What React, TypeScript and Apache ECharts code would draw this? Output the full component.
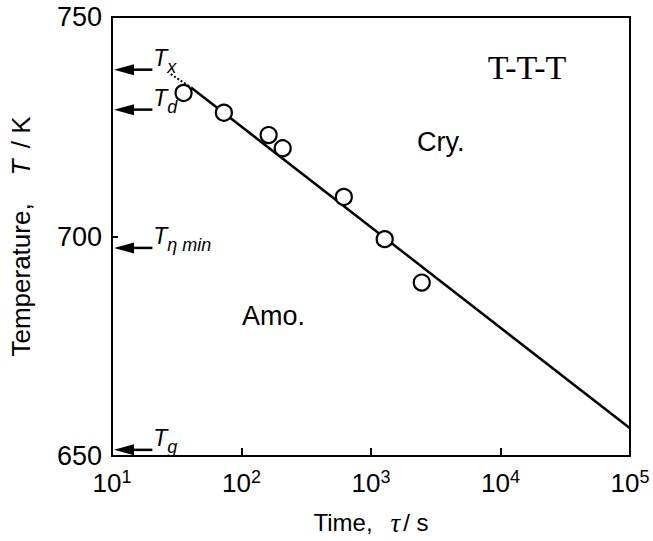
import React, { useEffect, useRef } from "react";
import * as echarts from "echarts";

// Measured crystallisation onset points: [time tau (s), temperature T (K)]
const pointTau = [35.7, 73.1, 162, 208, 617, 1276, 2466];
const pointTemp = [732.7, 728.2, 723.1, 720.1, 709.0, 699.4, 689.5];

// Fitted T-T-T line (solid) and its dotted extension toward Tx
const fitTau = [41, 100000];
const fitTemp = [733.9, 656.3];
const extTau = [28.4, 41];
const extTemp = [737.0, 733.9];

// Characteristic temperatures marked by arrows on the T axis
const arrowSubs = ["x", "d", "η min", "g"];
const arrowTemp = [738.0, 728.9, 697.4, 651.4];
const arrowTailTau = [20.5, 20.5, 20.5, 20.5];

const xTicks = [10, 100, 1000, 10000, 100000];
const yTicks = [650, 700, 750];

const SANS = "'Liberation Sans', Arial, Helvetica, sans-serif";
const SERIF = "'Liberation Serif', 'Times New Roman', serif";

export default function App() {
  const ref = useRef<HTMLDivElement>(null);
  useEffect(() => {
    if (!ref.current) return;
    const chart = echarts.init(ref.current, undefined, { renderer: "svg" });
    const points = pointTau.map((t, i) => [t, pointTemp[i]]);
    const fit = fitTau.map((t, i) => [t, fitTemp[i]]);
    const ext = extTau.map((t, i) => [t, extTemp[i]]);
    const arrows = arrowTemp.map((T, i) => [arrowTailTau[i], T]);

    chart.setOption({
      animation: false,
      backgroundColor: "#fff",
      grid: {
        left: 102,
        right: 23,
        top: 17,
        bottom: 82,
        show: true,
        borderColor: "#000",
        borderWidth: 2,
      },
      xAxis: {
        type: "log",
        logBase: 10,
        min: xTicks[0],
        max: xTicks[xTicks.length - 1],
        axisLine: { show: true, lineStyle: { color: "#000", width: 2 } },
        axisTick: { show: true, inside: true, length: 8, lineStyle: { color: "#000", width: 2 } },
        minorTick: { show: false },
        splitLine: { show: false },
        axisLabel: {
          margin: 12,
          fontSize: 26,
          fontFamily: SANS,
          color: "#000",
          formatter: (v: number) => `{b|10}{s|${Math.round(Math.log10(v))}}`,
          rich: {
            b: { fontSize: 26, fontFamily: SANS, color: "#000", lineHeight: 30 },
            s: { fontSize: 18, fontFamily: SANS, color: "#000", verticalAlign: "top", lineHeight: 17 },
          },
        },
        name: "{a|Time,}{t|τ}{a|/ s}",
        nameLocation: "middle",
        nameGap: 53,
        nameTextStyle: {
          fontSize: 24,
          fontFamily: SANS,
          color: "#000",
          rich: {
            a: { fontSize: 24, fontFamily: SANS, color: "#000" },
            t: { fontSize: 27, fontFamily: SERIF, fontStyle: "italic", color: "#000", padding: [0, 3, 0, 18] },
          },
        },
      },
      yAxis: {
        type: "value",
        min: yTicks[0],
        max: yTicks[yTicks.length - 1],
        interval: 50,
        axisLine: { show: true, lineStyle: { color: "#000", width: 2 } },
        axisTick: { show: true, inside: true, length: 6, lineStyle: { color: "#000", width: 2 } },
        splitLine: { show: false },
        axisLabel: { margin: 10, fontSize: 27, fontFamily: SANS, color: "#000" },
        name: "{a|Temperature,}{i|T}{a| / K}",
        nameLocation: "middle",
        nameGap: 78,
        nameTextStyle: {
          fontSize: 26,
          fontFamily: SANS,
          color: "#000",
          rich: {
            a: { fontSize: 26, fontFamily: SANS, color: "#000" },
            i: { fontSize: 26, fontFamily: SANS, fontStyle: "italic", color: "#000", padding: [0, 4, 0, 28] },
          },
        },
      },
      series: [
        {
          type: "line",
          data: ext,
          symbol: "none",
          lineStyle: { color: "#000", width: 2, type: "dotted" },
          silent: true,
        },
        {
          type: "line",
          data: fit,
          symbol: "none",
          lineStyle: { color: "#000", width: 2.5 },
          silent: true,
        },
        {
          type: "scatter",
          data: points,
          symbol: "circle",
          symbolSize: 16,
          itemStyle: { color: "#fff", borderColor: "#000", borderWidth: 2.2, opacity: 1 },
          z: 5,
        },
        {
          type: "custom",
          clip: false,
          data: arrows,
          z: 6,
          renderItem: (params: any, api: any) => {
            const tail = api.coord([api.value(0), api.value(1)]);
            const head = api.coord([xTicks[0], api.value(1)]);
            const y = tail[1];
            const hx = head[0] + 2;
            const sub = arrowSubs[params.dataIndex];
            return {
              type: "group",
              children: [
                {
                  type: "line",
                  shape: { x1: tail[0], y1: y, x2: hx + 16, y2: y },
                  style: { stroke: "#000", lineWidth: 2.5 },
                },
                {
                  type: "polygon",
                  shape: { points: [[hx, y], [hx + 20, y - 5.5], [hx + 20, y + 5.5]] },
                  style: { fill: "#000" },
                },
                {
                  type: "text",
                  x: tail[0] + 1,
                  y: y - 12,
                  style: {
                    text: "T",
                    fontSize: 23,
                    fontFamily: SANS,
                    fontStyle: "italic",
                    fill: "#000",
                    verticalAlign: "middle",
                    align: "left",
                  },
                },
                {
                  type: "text",
                  x: tail[0] + 15,
                  y: y - 3,
                  style: {
                    text: sub,
                    fontSize: 18,
                    fontFamily: SANS,
                    fontStyle: "italic",
                    fill: "#000",
                    verticalAlign: "middle",
                    align: "left",
                  },
                },
              ],
            };
          },
        },
      ],
      graphic: [
        {
          type: "text",
          x: 527,
          y: 67,
          style: {
            text: "T-T-T",
            fontSize: 34,
            fontFamily: SERIF,
            fill: "#000",
            align: "center",
            verticalAlign: "middle",
          },
        },
        {
          type: "text",
          x: 417,
          y: 142,
          style: {
            text: "Cry.",
            fontSize: 27,
            fontFamily: SANS,
            fill: "#000",
            align: "left",
            verticalAlign: "middle",
          },
        },
        {
          type: "text",
          x: 242,
          y: 316,
          style: {
            text: "Amo.",
            fontSize: 27,
            fontFamily: SANS,
            fill: "#000",
            align: "left",
            verticalAlign: "middle",
          },
        },
      ],
    });
    return () => chart.dispose();
  }, []);
  return (
    <div
      ref={ref}
      style={{ position: "fixed", left: 0, top: 0, width: 653, height: 541, background: "#fff" }}
    />
  );
}
